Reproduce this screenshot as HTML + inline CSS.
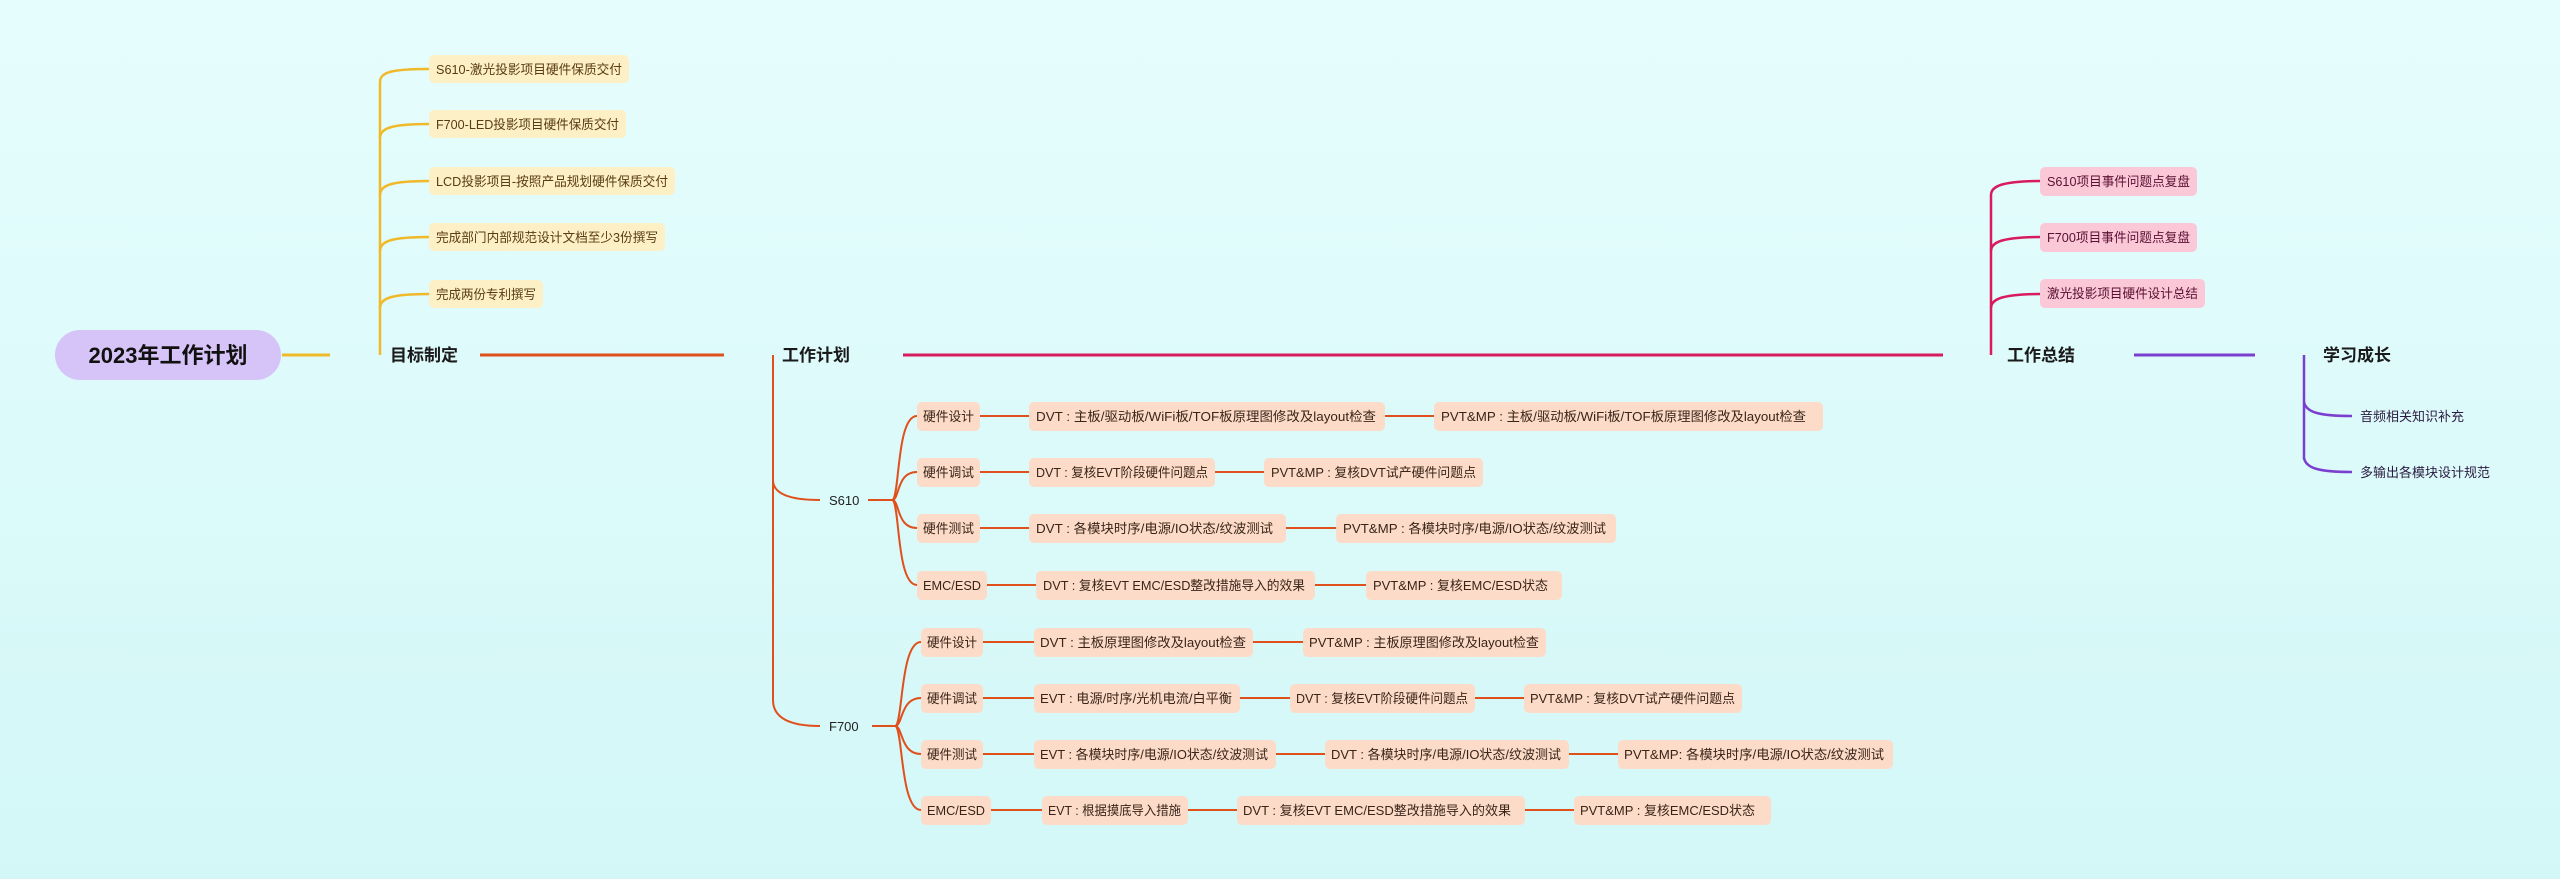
<!DOCTYPE html>
<html><head><meta charset="utf-8"><style>
html,body{margin:0;padding:0;}
body{width:2560px;height:879px;overflow:hidden;background:linear-gradient(180deg,#e6fdfd 0%,#d3f7f7 100%);}
svg{display:block;font-family:"Liberation Sans","Noto Sans CJK SC",sans-serif;}
.y{fill:#fdf0c6}.yt{fill:#5a3b12;font-size:13px}
.o{fill:#fcdcc8}.ot{fill:#3a2418;font-size:13px}
.p{fill:#fbc8d8}.pt{fill:#5a1030;font-size:13px}
.b{font-size:17px;font-weight:bold;fill:#1a1a1a}
.pl{fill:#2a1a40;font-size:13px}
</style></head><body>
<svg width="2560" height="879" viewBox="0 0 2560 879" xmlns="http://www.w3.org/2000/svg">
<rect x="55" y="330" width="226" height="50" rx="25" fill="#d6c3f7"/>
<text x="168" y="363" text-anchor="middle" font-size="22" font-weight="bold" fill="#111">2023年工作计划</text>
<line x1="282" y1="355" x2="330" y2="355" stroke="#f0b92a" stroke-width="3"/>

<text x="390" y="361" class="b">目标制定</text>
<g fill="none" stroke="#f0b92a" stroke-width="2.5">
<line x1="380" y1="82" x2="380" y2="355"/>
<path d="M380 82 C380 72 392 69 429 69"/>
<path d="M380 138 C380 128 392 124 429 124"/>
<path d="M380 195 C380 185 392 181 429 181"/>
<path d="M380 251 C380 241 392 237 429 237"/>
<path d="M380 308 C380 298 392 294 429 294"/>
</g>
<rect class="y" x="429" y="55" width="200" height="28" rx="5"/><text class="yt" x="436" y="74" textLength="186" lengthAdjust="spacingAndGlyphs">S610-激光投影项目硬件保质交付</text>
<rect class="y" x="429" y="110" width="197" height="28" rx="5"/><text class="yt" x="436" y="129" textLength="183" lengthAdjust="spacingAndGlyphs">F700-LED投影项目硬件保质交付</text>
<rect class="y" x="429" y="167" width="246" height="28" rx="5"/><text class="yt" x="436" y="186" textLength="232" lengthAdjust="spacingAndGlyphs">LCD投影项目-按照产品规划硬件保质交付</text>
<rect class="y" x="429" y="223" width="236" height="28" rx="5"/><text class="yt" x="436" y="242" textLength="222" lengthAdjust="spacingAndGlyphs">完成部门内部规范设计文档至少3份撰写</text>
<rect class="y" x="429" y="280" width="114" height="28" rx="5"/><text class="yt" x="436" y="299" textLength="100" lengthAdjust="spacingAndGlyphs">完成两份专利撰写</text>

<line x1="480" y1="355" x2="724" y2="355" stroke="#e0501c" stroke-width="3"/>

<text x="782" y="361" class="b">工作计划</text>
<line x1="903" y1="355" x2="1943" y2="355" stroke="#d81b5e" stroke-width="3"/>
<g fill="none" stroke="#e0501c" stroke-width="2">
<line x1="773" y1="355" x2="773" y2="700"/>
<path d="M773 480 C773 494 790 500 820 500"/>
<path d="M773 700 C773 718 790 726 820 726"/>
<line x1="868" y1="500" x2="892" y2="500"/>
<line x1="872" y1="726" x2="895" y2="726"/>
<path d="M892 500 C900 500 896 416 917 416"/>
<path d="M892 500 C900 500 896 472 917 472"/>
<path d="M892 500 C900 500 896 528 917 528"/>
<path d="M892 500 C900 500 896 585 917 585"/>
<path d="M895 726 C903 726 900 642 921 642"/>
<path d="M895 726 C903 726 900 698 921 698"/>
<path d="M895 726 C903 726 900 754 921 754"/>
<path d="M895 726 C903 726 900 810 921 810"/>
<line x1="980" y1="416" x2="1029" y2="416"/><line x1="1385" y1="416" x2="1434" y2="416"/>
<line x1="980" y1="472" x2="1029" y2="472"/><line x1="1215" y1="472" x2="1264" y2="472"/>
<line x1="980" y1="528" x2="1029" y2="528"/><line x1="1286" y1="528" x2="1336" y2="528"/>
<line x1="987" y1="585" x2="1036" y2="585"/><line x1="1315" y1="585" x2="1366" y2="585"/>
<line x1="983" y1="642" x2="1034" y2="642"/><line x1="1253" y1="642" x2="1303" y2="642"/>
<line x1="983" y1="698" x2="1034" y2="698"/><line x1="1240" y1="698" x2="1290" y2="698"/><line x1="1475" y1="698" x2="1524" y2="698"/>
<line x1="983" y1="754" x2="1034" y2="754"/><line x1="1276" y1="754" x2="1325" y2="754"/><line x1="1569" y1="754" x2="1618" y2="754"/>
<line x1="991" y1="810" x2="1042" y2="810"/><line x1="1188" y1="810" x2="1237" y2="810"/><line x1="1525" y1="810" x2="1574" y2="810"/>
</g>
<text x="829" y="505" fill="#222" font-size="13">S610</text>
<text x="829" y="731" fill="#222" font-size="13">F700</text>

<rect class="o" x="917" y="402" width="63" height="29" rx="5"/><text class="ot" x="923" y="421" textLength="51" lengthAdjust="spacingAndGlyphs">硬件设计</text>
<rect class="o" x="1029" y="402" width="356" height="29" rx="5"/><text class="ot" x="1036" y="421" textLength="340" lengthAdjust="spacingAndGlyphs">DVT : 主板/驱动板/WiFi板/TOF板原理图修改及layout检查</text>
<rect class="o" x="1434" y="402" width="389" height="29" rx="5"/><text class="ot" x="1441" y="421" textLength="365" lengthAdjust="spacingAndGlyphs">PVT&amp;MP : 主板/驱动板/WiFi板/TOF板原理图修改及layout检查</text>

<rect class="o" x="917" y="458" width="63" height="29" rx="5"/><text class="ot" x="923" y="477" textLength="51" lengthAdjust="spacingAndGlyphs">硬件调试</text>
<rect class="o" x="1029" y="458" width="186" height="29" rx="5"/><text class="ot" x="1036" y="477" textLength="172" lengthAdjust="spacingAndGlyphs">DVT : 复核EVT阶段硬件问题点</text>
<rect class="o" x="1264" y="458" width="219" height="29" rx="5"/><text class="ot" x="1271" y="477" textLength="205" lengthAdjust="spacingAndGlyphs">PVT&amp;MP : 复核DVT试产硬件问题点</text>

<rect class="o" x="917" y="514" width="63" height="29" rx="5"/><text class="ot" x="923" y="533" textLength="51" lengthAdjust="spacingAndGlyphs">硬件测试</text>
<rect class="o" x="1029" y="514" width="257" height="29" rx="5"/><text class="ot" x="1036" y="533" textLength="237" lengthAdjust="spacingAndGlyphs">DVT : 各模块时序/电源/IO状态/纹波测试</text>
<rect class="o" x="1336" y="514" width="280" height="29" rx="5"/><text class="ot" x="1343" y="533" textLength="263" lengthAdjust="spacingAndGlyphs">PVT&amp;MP : 各模块时序/电源/IO状态/纹波测试</text>

<rect class="o" x="917" y="571" width="70" height="29" rx="5"/><text class="ot" x="923" y="590" textLength="58" lengthAdjust="spacingAndGlyphs">EMC/ESD</text>
<rect class="o" x="1036" y="571" width="279" height="29" rx="5"/><text class="ot" x="1043" y="590" textLength="262" lengthAdjust="spacingAndGlyphs">DVT : 复核EVT EMC/ESD整改措施导入的效果</text>
<rect class="o" x="1366" y="571" width="196" height="29" rx="5"/><text class="ot" x="1373" y="590" textLength="175" lengthAdjust="spacingAndGlyphs">PVT&amp;MP : 复核EMC/ESD状态</text>

<rect class="o" x="921" y="628" width="62" height="29" rx="5"/><text class="ot" x="927" y="647" textLength="50" lengthAdjust="spacingAndGlyphs">硬件设计</text>
<rect class="o" x="1034" y="628" width="219" height="29" rx="5"/><text class="ot" x="1040" y="647" textLength="206" lengthAdjust="spacingAndGlyphs">DVT :  主板原理图修改及layout检查</text>
<rect class="o" x="1303" y="628" width="243" height="29" rx="5"/><text class="ot" x="1309" y="647" textLength="230" lengthAdjust="spacingAndGlyphs">PVT&amp;MP : 主板原理图修改及layout检查</text>

<rect class="o" x="921" y="684" width="62" height="29" rx="5"/><text class="ot" x="927" y="703" textLength="50" lengthAdjust="spacingAndGlyphs">硬件调试</text>
<rect class="o" x="1034" y="684" width="206" height="29" rx="5"/><text class="ot" x="1040" y="703" textLength="192" lengthAdjust="spacingAndGlyphs">EVT :  电源/时序/光机电流/白平衡</text>
<rect class="o" x="1290" y="684" width="185" height="29" rx="5"/><text class="ot" x="1296" y="703" textLength="172" lengthAdjust="spacingAndGlyphs">DVT : 复核EVT阶段硬件问题点</text>
<rect class="o" x="1524" y="684" width="218" height="29" rx="5"/><text class="ot" x="1530" y="703" textLength="205" lengthAdjust="spacingAndGlyphs">PVT&amp;MP : 复核DVT试产硬件问题点</text>

<rect class="o" x="921" y="740" width="62" height="29" rx="5"/><text class="ot" x="927" y="759" textLength="50" lengthAdjust="spacingAndGlyphs">硬件测试</text>
<rect class="o" x="1034" y="740" width="242" height="29" rx="5"/><text class="ot" x="1040" y="759" textLength="228" lengthAdjust="spacingAndGlyphs">EVT : 各模块时序/电源/IO状态/纹波测试</text>
<rect class="o" x="1325" y="740" width="244" height="29" rx="5"/><text class="ot" x="1331" y="759" textLength="230" lengthAdjust="spacingAndGlyphs">DVT : 各模块时序/电源/IO状态/纹波测试</text>
<rect class="o" x="1618" y="740" width="275" height="29" rx="5"/><text class="ot" x="1624" y="759" textLength="260" lengthAdjust="spacingAndGlyphs">PVT&amp;MP: 各模块时序/电源/IO状态/纹波测试</text>

<rect class="o" x="921" y="796" width="70" height="29" rx="5"/><text class="ot" x="927" y="815" textLength="58" lengthAdjust="spacingAndGlyphs">EMC/ESD</text>
<rect class="o" x="1042" y="796" width="146" height="29" rx="5"/><text class="ot" x="1048" y="815" textLength="133" lengthAdjust="spacingAndGlyphs">EVT : 根据摸底导入措施</text>
<rect class="o" x="1237" y="796" width="288" height="29" rx="5"/><text class="ot" x="1243" y="815" textLength="268" lengthAdjust="spacingAndGlyphs">DVT : 复核EVT EMC/ESD整改措施导入的效果</text>
<rect class="o" x="1574" y="796" width="197" height="29" rx="5"/><text class="ot" x="1580" y="815" textLength="175" lengthAdjust="spacingAndGlyphs">PVT&amp;MP : 复核EMC/ESD状态</text>

<text x="2007" y="361" class="b">工作总结</text>
<g fill="none" stroke="#d81b5e" stroke-width="2.5">
<line x1="1991" y1="195" x2="1991" y2="355"/>
<path d="M1991 195 C1991 186 2003 181 2040 181"/>
<path d="M1991 251 C1991 242 2003 237 2040 237"/>
<path d="M1991 308 C1991 299 2003 294 2040 294"/>
</g>
<rect class="p" x="2040" y="167" width="157" height="29" rx="5"/><text class="pt" x="2047" y="186" textLength="143" lengthAdjust="spacingAndGlyphs">S610项目事件问题点复盘</text>
<rect class="p" x="2040" y="223" width="157" height="29" rx="5"/><text class="pt" x="2047" y="242" textLength="143" lengthAdjust="spacingAndGlyphs">F700项目事件问题点复盘</text>
<rect class="p" x="2040" y="279" width="165" height="29" rx="5"/><text class="pt" x="2047" y="298" textLength="151" lengthAdjust="spacingAndGlyphs">激光投影项目硬件设计总结</text>

<line x1="2134" y1="355" x2="2255" y2="355" stroke="#7b3fd0" stroke-width="3"/>

<text x="2323" y="361" class="b">学习成长</text>
<g fill="none" stroke="#7b3fd0" stroke-width="2.5">
<line x1="2304" y1="355" x2="2304" y2="459"/>
<path d="M2304 402 C2306 412 2318 416 2352 416"/>
<path d="M2304 458 C2306 468 2318 472 2352 472"/>
</g>
<text class="pl" x="2360" y="421">音频相关知识补充</text>
<text class="pl" x="2360" y="477">多输出各模块设计规范</text>
</svg>
</body></html>
